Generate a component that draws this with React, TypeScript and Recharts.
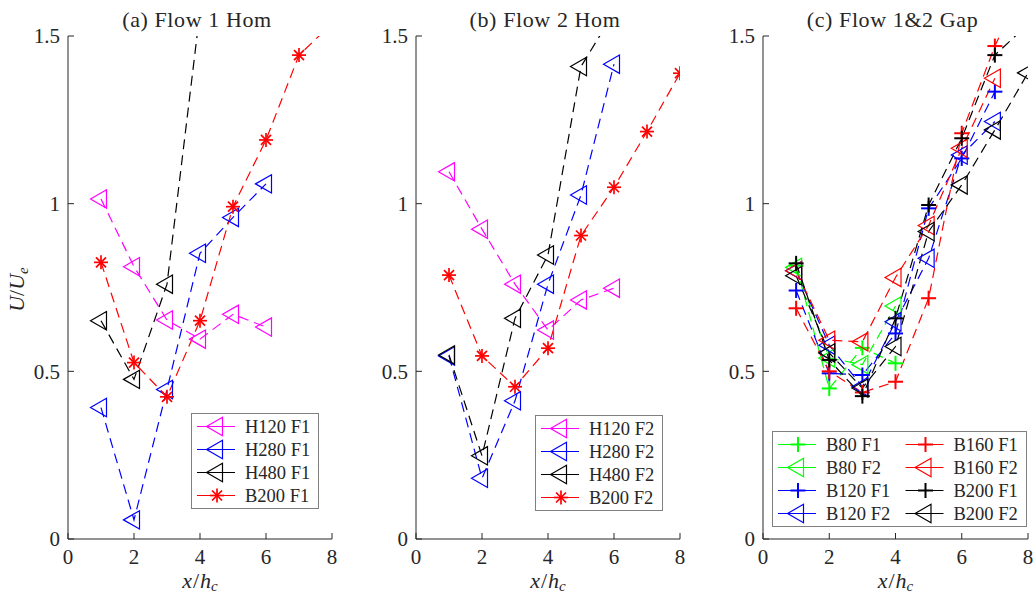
import React from "react"
import { LineChart, Line, XAxis, YAxis, Legend } from "recharts"

const FONT = "Liberation Serif, DejaVu Serif, serif"
const AXIS = "#262626"

const X_TICKS = [0, 2, 4, 6, 8]
const Y_TICKS = [0, 0.5, 1, 1.5]
const STATIONS = [1, 2, 3, 4, 5, 6, 7, 8]

// (a) Flow 1 Hom
const h120F1 = [1.014, 0.812, 0.653, 0.596, 0.67, 0.632]
const h280F1 = [0.392, 0.057, 0.446, 0.852, 0.959, 1.059]
const h480F1 = [0.651, 0.476, 0.76, 1.573]
const b200F1 = [0.825, 0.526, 0.424, 0.651, 0.991, 1.19, 1.443, 1.537]

// (b) Flow 2 Hom
const h120F2 = [1.095, 0.924, 0.76, 0.623, 0.713, 0.748]
const h280F2 = [0.546, 0.181, 0.412, 0.76, 1.026, 1.416]
const h480F2 = [0.549, 0.248, 0.658, 0.847, 1.409, 1.57]
const b200F2 = [0.787, 0.546, 0.454, 0.569, 0.905, 1.049, 1.215, 1.389]

// (c) Flow 1&2 Gap
const gB80F1 = [0.815, 0.449, 0.57, 0.524]
const gB80F2 = [0.81, 0.54, 0.52, 0.695]
const gB120F1 = [0.741, 0.494, 0.489, 0.613, 0.986, 1.135, 1.334]
const gB120F2 = [0.8, 0.578, 0.454, 0.648, 0.837, 1.145, 1.245]
const gB160F1 = [0.688, 0.5, 0.437, 0.469, 0.718, 1.21, 1.47, 1.68]
const gB160F2 = [0.8, 0.593, 0.588, 0.78, 0.935, 1.165, 1.374]
const gB200F1 = [0.822, 0.534, 0.426, 0.658, 0.996, 1.195, 1.443, 1.535]
const gB200F2 = [0.785, 0.555, 0.45, 0.574, 0.917, 1.056, 1.22, 1.39]

type Marker = "tri" | "star" | "plus"
type Series = { name: string; color: string; marker: Marker; values: number[] }

const MAG = "#ff00ff"
const BLUE = "#0000ff"
const BLACK = "#000000"
const RED = "#ff0000"
const GREEN = "#00ff00"

const PLOT_TOP = 36
const PLOT_BOTTOM = 539
const Y_AXIS_W = 68
const X_AXIS_H = 30
const RIGHT_PAD = 14

type PanelDef = {
  id: string
  title: string
  plotLeft: number
  plotWidth: number
  series: Series[]
  legend: { left: number; top: number; width: number; height: number; cols: number }
}

const PANELS: PanelDef[] = [
  {
    id: "a",
    title: "(a) Flow 1 Hom",
    plotLeft: 68,
    plotWidth: 264,
    series: [
      { name: "H120 F1", color: MAG, marker: "tri", values: h120F1 },
      { name: "H280 F1", color: BLUE, marker: "tri", values: h280F1 },
      { name: "H480 F1", color: BLACK, marker: "tri", values: h480F1 },
      { name: "B200 F1", color: RED, marker: "star", values: b200F1 },
    ],
    legend: { left: 191, top: 413, width: 128, height: 96, cols: 1 },
  },
  {
    id: "b",
    title: "(b) Flow 2 Hom",
    plotLeft: 416,
    plotWidth: 264,
    series: [
      { name: "H120 F2", color: MAG, marker: "tri", values: h120F2 },
      { name: "H280 F2", color: BLUE, marker: "tri", values: h280F2 },
      { name: "H480 F2", color: BLACK, marker: "tri", values: h480F2 },
      { name: "B200 F2", color: RED, marker: "star", values: b200F2 },
    ],
    legend: { left: 535, top: 415, width: 128, height: 96, cols: 1 },
  },
  {
    id: "c",
    title: "(c) Flow 1&2 Gap",
    plotLeft: 763,
    plotWidth: 265,
    series: [
      { name: "B80 F1", color: GREEN, marker: "plus", values: gB80F1 },
      { name: "B80 F2", color: GREEN, marker: "tri", values: gB80F2 },
      { name: "B120 F1", color: BLUE, marker: "plus", values: gB120F1 },
      { name: "B120 F2", color: BLUE, marker: "tri", values: gB120F2 },
      { name: "B160 F1", color: RED, marker: "plus", values: gB160F1 },
      { name: "B160 F2", color: RED, marker: "tri", values: gB160F2 },
      { name: "B200 F1", color: BLACK, marker: "plus", values: gB200F1 },
      { name: "B200 F2", color: BLACK, marker: "tri", values: gB200F2 },
    ],
    legend: { left: 772, top: 431, width: 255, height: 96, cols: 2 },
  },
]

const toRows = (values: number[]) => values.map((y, i) => ({ x: STATIONS[i], y }))

function drawMarker(kind: Marker, cx: number, cy: number, color: string) {
  if (kind === "tri") {
    return (
      <path
        d={`M${cx - 10.5},${cy} L${cx + 5.5},${cy - 9.2} L${cx + 5.5},${cy + 9.2} Z`}
        fill="none"
        stroke={color}
        strokeWidth={1.2}
      />
    )
  }
  if (kind === "plus") {
    return (
      <g stroke={color} strokeWidth={2}>
        <line x1={cx - 7.5} y1={cy} x2={cx + 7.5} y2={cy} />
        <line x1={cx} y1={cy - 7.5} x2={cx} y2={cy + 7.5} />
      </g>
    )
  }
  return (
    <g stroke={color} strokeWidth={1.7}>
      <line x1={cx - 7} y1={cy} x2={cx + 7} y2={cy} />
      <line x1={cx} y1={cy - 7} x2={cx} y2={cy + 7} />
      <line x1={cx - 5} y1={cy - 5} x2={cx + 5} y2={cy + 5} />
      <line x1={cx - 5} y1={cy + 5} x2={cx + 5} y2={cy - 5} />
    </g>
  )
}

const makeDot = (kind: Marker, color: string) => (props: any) => {
  const { cx, cy, index } = props
  if (cx == null || cy == null || isNaN(cx) || isNaN(cy)) return <g key={`e-${index}`} />
  return <g key={`m-${index}`}>{drawMarker(kind, cx, cy, color)}</g>
}

function LegendBox({ items, cols, width, height }: { items: Series[]; cols: number; width: number; height: number }) {
  const rows = Math.ceil(items.length / cols)
  return (
    <svg width={width} height={height} style={{ display: "block" }}>
      <rect x={0.5} y={0.5} width={width - 1} height={height - 1} fill="#fff" stroke="#808080" strokeWidth={1} />
      {items.map((s, i) => {
        const col = Math.floor(i / rows)
        const row = i % rows
        const ox = col * 127.5
        const cy = 13.5 + row * 23
        return (
          <g key={s.name}>
            <line x1={ox + 6} y1={cy} x2={ox + 44} y2={cy} stroke={s.color} strokeWidth={1.2} />
            {drawMarker(s.marker, ox + 26, cy, s.color)}
            <text x={ox + 54} y={cy + 6} fontSize={18.5} fontFamily={FONT} fill={AXIS}>
              {s.name}
            </text>
          </g>
        )
      })}
    </svg>
  )
}

function Panel({ p }: { p: PanelDef }) {
  const chartLeft = p.plotLeft - Y_AXIS_W
  const chartW = Y_AXIS_W + p.plotWidth + RIGHT_PAD
  const tickStyle = { fill: AXIS, fontSize: 21, fontFamily: FONT }
  return (
    <div style={{ position: "absolute", left: chartLeft, top: 0 }}>
      <LineChart
        width={chartW}
        height={595}
        margin={{ top: PLOT_TOP, right: RIGHT_PAD, bottom: 595 - PLOT_BOTTOM - X_AXIS_H, left: 0 }}
        style={{ fontFamily: FONT }}
      >
        <XAxis
          xAxisId="b"
          type="number"
          dataKey="x"
          domain={[0, 8]}
          ticks={X_TICKS}
          interval={0}
          allowDataOverflow
          height={X_AXIS_H}
          tickSize={-6}
          tickMargin={16}
          stroke={AXIS}
          tick={tickStyle}
        />
        <XAxis
          xAxisId="t"
          orientation="top"
          type="number"
          dataKey="x"
          domain={[0, 8]}
          ticks={X_TICKS}
          interval={0}
          allowDataOverflow
          height={0}
          tickSize={-6}
          tick={false}
          stroke={AXIS}
        />
        <YAxis
          yAxisId="l"
          type="number"
          domain={[0, 1.5]}
          ticks={Y_TICKS}
          interval={0}
          allowDataOverflow
          width={Y_AXIS_W}
          tickSize={-6}
          tickMargin={14}
          stroke={AXIS}
          tick={tickStyle}
        />
        <YAxis
          yAxisId="r"
          orientation="right"
          type="number"
          domain={[0, 1.5]}
          ticks={Y_TICKS}
          interval={0}
          allowDataOverflow
          width={0}
          tickSize={-6}
          tick={false}
          stroke={AXIS}
        />
        {p.series.map((s) => (
          <Line
            key={s.name}
            xAxisId="b"
            yAxisId="l"
            data={toRows(s.values)}
            dataKey="y"
            type="linear"
            stroke={s.color}
            strokeWidth={1.2}
            strokeDasharray="10 6"
            dot={makeDot(s.marker, s.color)}
            activeDot={false}
            legendType="none"
            isAnimationActive={false}
          />
        ))}
        <Legend
          layout="horizontal"
          verticalAlign="middle"
          align="center"
          width={p.legend.width}
          height={p.legend.height}
          wrapperStyle={{ left: p.legend.left - chartLeft, top: p.legend.top, width: p.legend.width, height: p.legend.height }}
          content={() => (
            <LegendBox items={p.series} cols={p.legend.cols} width={p.legend.width} height={p.legend.height} />
          )}
        />
      </LineChart>
    </div>
  )
}

export default function App() {
  const midY = (PLOT_TOP + PLOT_BOTTOM) / 2
  return (
    <div style={{ position: "absolute", left: 0, top: 0, width: 1034, height: 595, background: "#fff", overflow: "hidden" }}>
      {PANELS.map((p) => (
        <Panel key={p.id} p={p} />
      ))}
      <svg width={1034} height={595} style={{ position: "absolute", left: 0, top: 0, pointerEvents: "none" }}>
        {PANELS.map((p) => {
          const cx = p.plotLeft + p.plotWidth / 2
          return (
            <g key={p.id} fontFamily={FONT} fill={AXIS}>
              <text x={cx - 3} y={26.5} textAnchor="middle" fontSize={22} letterSpacing={0.6}>
                {p.title}
              </text>
              <text x={cx} y={588} textAnchor="middle" fontSize={22}>
                <tspan fontStyle="italic">x</tspan>
                <tspan dx={1}>/</tspan>
                <tspan fontStyle="italic" dx={1}>h</tspan>
                <tspan fontStyle="italic" fontSize={15} dy={3}>c</tspan>
              </text>
            </g>
          )
        })}
        <text
          transform={`translate(24, ${midY + 2}) rotate(-90)`}
          textAnchor="middle"
          fontSize={22}
          fontFamily={FONT}
          fill={AXIS}
        >
          <tspan fontStyle="italic">U</tspan>
          <tspan>/</tspan>
          <tspan fontStyle="italic">U</tspan>
          <tspan fontStyle="italic" fontSize={15} dy={4}>e</tspan>
        </text>
      </svg>
    </div>
  )
}
